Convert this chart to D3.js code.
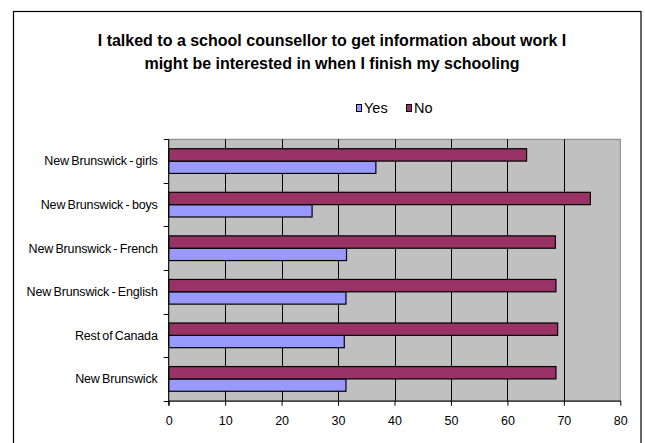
<!DOCTYPE html>
<html>
<head>
<meta charset="utf-8">
<script src="https://cdn.jsdelivr.net/npm/d3@7"></script>
<style>
  html, body { margin: 0; padding: 0; background: #fff; }
  svg { display: block; font-family: "Liberation Sans", Arial, sans-serif; }
</style>
</head>
<body>
<svg id="chart" width="645" height="443"></svg>
<script>
// Survey groups, listed top to bottom
const categories = [
  "New Brunswick - girls",
  "New Brunswick - boys",
  "New Brunswick - French",
  "New Brunswick - English",
  "Rest of Canada",
  "New Brunswick"
];
// Percent answering each way
const yesValues = [36.7, 25.4, 31.5, 31.4, 31.1, 31.4];
const noValues  = [63.4, 74.7, 68.5, 68.6, 68.9, 68.6];
const seriesNames = ["Yes", "No"];
const seriesColors = ["#9999FF", "#993366"];
const xTicks = [0, 10, 20, 30, 40, 50, 60, 70, 80];
const titleLines = [
  "I talked to a school counsellor to get information about work I",
  "might be interested in when I finish my schooling"
];

const rows = categories.map((c, i) => ({ category: c, Yes: yesValues[i], No: noValues[i] }));

const svg = d3.select("#chart");

// outer chart frame (bottom edge runs past the window)
svg.append("rect")
  .attr("x", 13.5).attr("y", 11.5)
  .attr("width", 627.5).attr("height", 460)
  .attr("fill", "#fff").attr("stroke", "#000").attr("stroke-width", 1.2);

// title
const title = svg.append("text")
  .attr("text-anchor", "middle")
  .attr("font-weight", "bold")
  .attr("font-size", 16)
  .attr("fill", "#000");
titleLines.forEach((t, i) => {
  title.append("tspan").attr("x", 332).attr("y", 46 + i * 23).text(t);
});

// plot geometry
const plot = { left: 168.7, right: 620.3, top: 139.3, bottom: 400.7 };

const x = d3.scaleLinear().domain([0, 80]).range([plot.left, plot.right]);
const y = d3.scaleBand().domain(categories).range([plot.top, plot.bottom]).padding(0);
// inside each category the No bar sits above the Yes bar
const ySeries = d3.scaleBand().domain(["No", "Yes"]).range([0, y.bandwidth()])
  .paddingInner(0).paddingOuter(0.765);

// plot background
svg.append("rect")
  .attr("x", plot.left).attr("y", plot.top)
  .attr("width", plot.right - plot.left).attr("height", plot.bottom - plot.top)
  .attr("fill", "#C0C0C0").attr("stroke", "#808080").attr("stroke-width", 1);

// vertical gridlines
svg.append("g")
  .selectAll("line")
  .data(xTicks.filter(v => v > 0 && v < 80))
  .join("line")
  .attr("x1", d => Math.round(x(d)) + 0.5).attr("x2", d => Math.round(x(d)) + 0.5)
  .attr("y1", plot.top).attr("y2", plot.bottom)
  .attr("stroke", "#000").attr("stroke-width", 1);

// bars
const groups = svg.append("g")
  .selectAll("g")
  .data(rows)
  .join("g")
  .attr("transform", d => `translate(0,${y(d.category)})`);

groups.selectAll("rect")
  .data(d => seriesNames.map((s, i) => ({ key: s, value: d[s], color: seriesColors[i] })))
  .join("rect")
  .attr("x", x(0))
  .attr("y", d => ySeries(d.key))
  .attr("width", d => x(d.value) - x(0))
  .attr("height", ySeries.bandwidth())
  .attr("fill", d => d.color)
  .attr("stroke", "#000")
  .attr("stroke-width", 1.2);

// x axis
const xAxis = svg.append("g")
  .attr("transform", `translate(0,${plot.bottom})`)
  .call(d3.axisBottom(x).tickValues(xTicks).tickSize(5).tickPadding(10).tickSizeOuter(0));
xAxis.select(".domain").attr("stroke", "#000");
xAxis.selectAll(".tick line").attr("stroke", "#000");
xAxis.selectAll(".tick text")
  .attr("font-size", 12.5)
  .attr("font-family", "Liberation Sans, Arial, sans-serif")
  .attr("fill", "#000");

// y axis: ticks at category boundaries, labels at band centres
const yAxisG = svg.append("g");
yAxisG.append("line")
  .attr("x1", plot.left).attr("x2", plot.left)
  .attr("y1", plot.top).attr("y2", plot.bottom + 5)
  .attr("stroke", "#000");
const boundaries = categories.map(c => y(c)).concat([plot.bottom]);
yAxisG.selectAll("line.tick")
  .data(boundaries)
  .join("line")
  .attr("class", "tick")
  .attr("x1", plot.left - 5).attr("x2", plot.left)
  .attr("y1", d => Math.round(d) + 0.5).attr("y2", d => Math.round(d) + 0.5)
  .attr("stroke", "#000");
yAxisG.selectAll("text")
  .data(categories)
  .join("text")
  .attr("x", plot.left - 11)
  .attr("y", d => y(d) + y.bandwidth() / 2)
  .attr("dy", "0.35em")
  .attr("text-anchor", "end")
  .attr("font-size", 12.5)
  .attr("word-spacing", -1)
  .attr("letter-spacing", -0.15)
  .attr("fill", "#000")
  .text(d => d);

// legend
const legend = svg.append("g").attr("transform", "translate(356,101)");
const legendX = [0, 50];
seriesNames.forEach((s, i) => {
  const g = legend.append("g").attr("transform", `translate(${legendX[i]},0)`);
  g.append("rect")
    .attr("x", 0.5).attr("y", 3.5).attr("width", 5).attr("height", 7)
    .attr("fill", seriesColors[i]).attr("stroke", "#000");
  g.append("text")
    .attr("x", 8).attr("y", 11.5)
    .attr("font-size", 14.5)
    .attr("fill", "#000")
    .text(s);
});
</script>
</body>
</html>
